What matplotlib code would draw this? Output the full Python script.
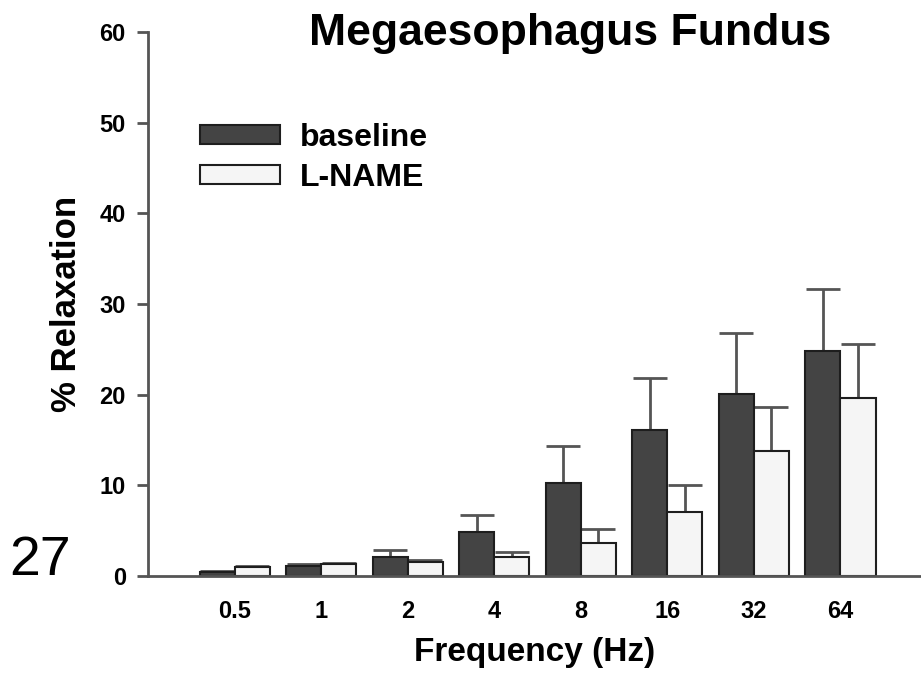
import matplotlib
matplotlib.use("Agg")
import matplotlib.pyplot as plt
import numpy as np
from matplotlib.patches import Patch

plt.rcParams['font.family'] = ['Liberation Sans', 'DejaVu Sans']

categories = ["0.5", "1", "2", "4", "8", "16", "32", "64"]
baseline = [0.45, 1.1, 2.1, 4.85, 10.25, 16.1, 20.1, 24.8]
baseline_err = [0.15, 0.2, 0.8, 1.85, 4.05, 5.7, 6.7, 6.8]
lname = [1.0, 1.3, 1.55, 2.1, 3.6, 7.05, 13.8, 19.6]
lname_err = [0.1, 0.1, 0.25, 0.5, 1.6, 2.95, 4.8, 6.0]
yticks = [0, 10, 20, 30, 40, 50, 60]

dark = '#444444'
light = '#f5f5f5'
edge = '#1e1e1e'
errc = '#555555'

fig = plt.figure(figsize=(9.21, 6.77), dpi=100)
ax = fig.add_axes([148/921, 101/677, 773/921, 544/677])

x = np.arange(len(categories))
w = 0.405
ax.bar(x - w/2, baseline, w, color=dark, edgecolor=edge, linewidth=1.5, zorder=2)
ax.bar(x + w/2, lname, w, color=light, edgecolor=edge, linewidth=1.5, zorder=2)
ax.errorbar(x - w/2, baseline, yerr=[np.zeros(len(x)), baseline_err], fmt='none',
            ecolor=errc, elinewidth=2, capsize=12, capthick=2, zorder=1)
ax.errorbar(x + w/2, lname, yerr=[np.zeros(len(x)), lname_err], fmt='none',
            ecolor=errc, elinewidth=2, capsize=12, capthick=2, zorder=1)

ax.set_xlim(-1.0, 7.93)
ax.set_ylim(0, 60)
ax.set_yticks(yticks)
ax.set_xticks(x)
ax.set_xticklabels(categories)
for s in ['top', 'right']:
    ax.spines[s].set_visible(False)
for s in ['left', 'bottom']:
    ax.spines[s].set_color('#555555')
    ax.spines[s].set_linewidth(2)
ax.tick_params(axis='y', length=8, width=2, color='#555555', pad=8, labelsize=17)
ax.tick_params(axis='x', length=0, pad=17, labelsize=17)
for lbl in ax.get_xticklabels() + ax.get_yticklabels():
    lbl.set_fontweight('bold')

ax.set_xlabel('Frequency (Hz)', fontsize=24, fontweight='bold', labelpad=10)
ax.set_ylabel('% Relaxation', fontsize=25, fontweight='bold', labelpad=12)

fig.text(570/921, 1 - 34/677, 'Megaesophagus Fundus', fontsize=32, fontweight='bold',
         ha='center', va='center')

handles = [Patch(facecolor=dark, edgecolor=edge, linewidth=1.5),
           Patch(facecolor=light, edgecolor=edge, linewidth=1.5)]
ax.legend(handles, ['baseline', 'L-NAME'], loc='upper left',
          bbox_to_anchor=(52/773, (576-123)/544), frameon=False, borderpad=0,
          borderaxespad=0,
          prop={'weight': 'bold', 'size': 23}, handlelength=2.5, handleheight=0.53,
          handletextpad=0.63, labelspacing=0.31)

fig.text(40/921, 1 - 561/677, '27', fontsize=40, ha='center', va='center')

fig.savefig('out.png', dpi=100)
